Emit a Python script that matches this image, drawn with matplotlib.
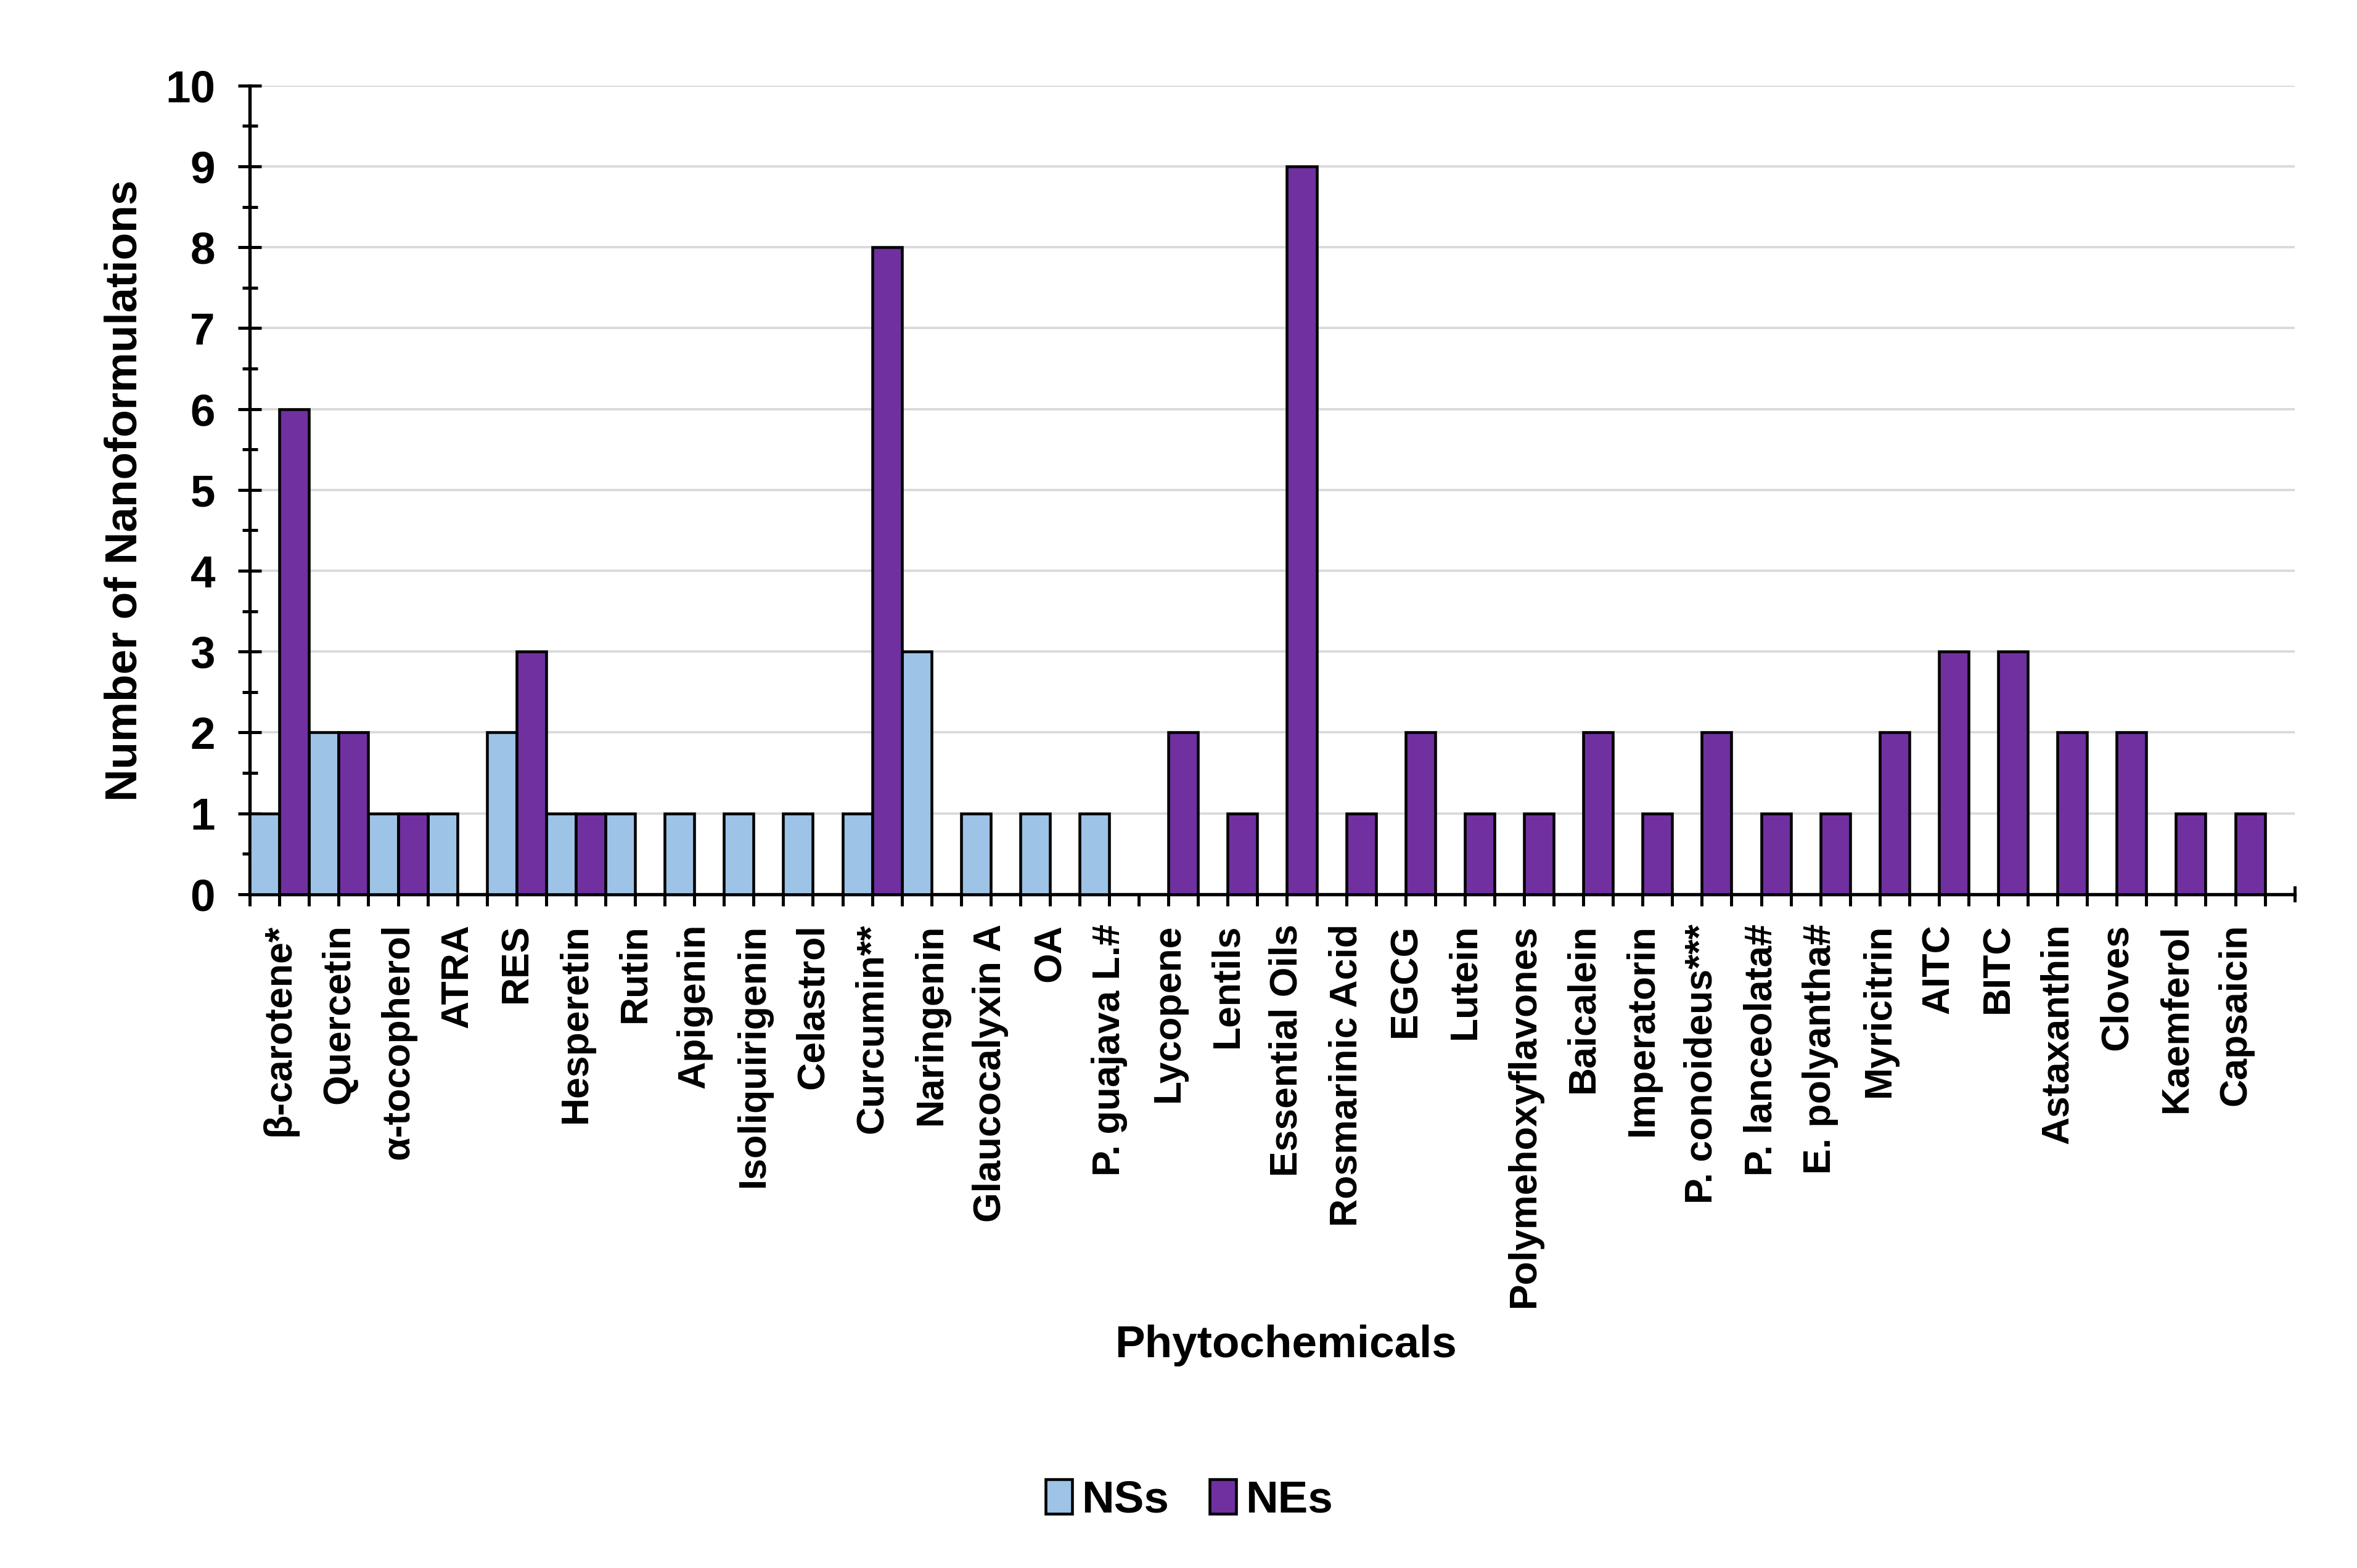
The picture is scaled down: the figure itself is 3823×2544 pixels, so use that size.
import matplotlib
matplotlib.use('Agg')
import matplotlib.pyplot as plt
import numpy as np

# ── Data ──────────────────────────────────────────────────────────────────────

PHYTOCHEMICALS = [
    'β-carotene*', 'Quercetin', 'α-tocopherol', 'ATRA', 'RES', 'Hesperetin',
    'Rutin', 'Apigenin', 'Isoliquirigenin', 'Celastrol', 'Curcumin**',
    'Naringenin', 'Glaucocalyxin A', 'OA', 'P. guajava L.#', 'Lycopene',
    'Lentils', 'Essential Oils', 'Rosmarinic Acid', 'EGCG', 'Lutein',
    'Polymehoxyflavones', 'Baicalein', 'Imperatorin', 'P. conoideus***',
    'P. lanceolata#', 'E. polyantha#', 'Myricitrin', 'AITC', 'BITC',
    'Astaxanthin', 'Cloves', 'Kaemferol', 'Capsaicin',
]

NSS = [1, 2, 1, 1, 2, 1, 1, 1, 1, 1, 1, 3, 1, 1, 1,
       0, 0, 0, 0, 0, 0, 0, 0, 0, 0, 0, 0, 0, 0, 0, 0, 0, 0, 0]
NES = [6, 2, 1, 0, 3, 1, 0, 0, 0, 0, 8, 0, 0, 0, 0,
       2, 1, 9, 1, 2, 1, 1, 2, 1, 2, 1, 1, 2, 3, 3, 2, 2, 1, 1]

SERIES_LABELS = ['NSs', 'NEs']
COLOURS = ['#9DC3E6', '#7030A0']

# ── Plot ──────────────────────────────────────────────────────────────────────

plt.rcParams['font.family'] = ['Liberation Sans', 'DejaVu Sans']
plt.rcParams['font.weight'] = 'bold'

fig = plt.figure(figsize=(3823 / 300, 2544 / 300), dpi=300)
ax = fig.add_axes([0.106, 0.4297, 0.8675, 0.5157])

n = len(PHYTOCHEMICALS)
x = np.arange(n)
w = 0.5
for off, vals, lab, col in zip((-0.25, 0.25), (NSS, NES), SERIES_LABELS, COLOURS):
    ax.bar(x + off, vals, w, color=col, edgecolor='black', linewidth=1.1,
           label=lab, zorder=3)

# axis runs half a category past the last group
ax.set_xlim(-0.5, n)
ax.set_ylim(0, 10)
ax.set_yticks(np.arange(0, 11, 1))
ax.set_yticks(np.arange(0.5, 10, 1), minor=True)
ax.set_xticks(x)
ax.set_xticks(np.arange(-0.5, n + 0.1, 1), minor=True)
ax.set_xticklabels(PHYTOCHEMICALS, rotation=90, fontsize=15, fontweight='bold',
                   va='top', ha='center')

ax.tick_params(axis='y', which='major', direction='inout', length=9, width=1.2,
               labelsize=17.5, pad=9)
ax.tick_params(axis='y', which='minor', direction='inout', length=6, width=1.2)
ax.tick_params(axis='x', which='both', direction='out', length=4.5, width=1.2,
               pad=7)
for t in ax.get_yticklabels():
    t.set_fontweight('bold')

# closing tick at the right end crosses the axis
ax.plot([n, n], [-0.08, 0.08], color='black', lw=1.2, clip_on=False, zorder=4)

ax.grid(axis='y', which='major', color='#D9D9D9', linewidth=0.9, zorder=0)
ax.set_axisbelow(True)
for s in ('top', 'right'):
    ax.spines[s].set_visible(False)
for s in ('left', 'bottom'):
    ax.spines[s].set_linewidth(1.3)

fig.text(0.053, 0.687, 'Number of Nanoformulations', rotation=90,
         ha='center', va='center', fontsize=17.5, fontweight='bold')
fig.text(0.5455, 0.142, 'Phytochemicals', ha='center', va='center',
         fontsize=17.5, fontweight='bold')

fig.legend(loc='center', bbox_to_anchor=(0.5045, 0.043), ncol=2, frameon=False,
           handlelength=0.6, handleheight=0.8,
           handletextpad=0.2, columnspacing=0.9,
           prop={'weight': 'bold', 'size': 17.5})

fig.savefig('out.png', dpi=300)
